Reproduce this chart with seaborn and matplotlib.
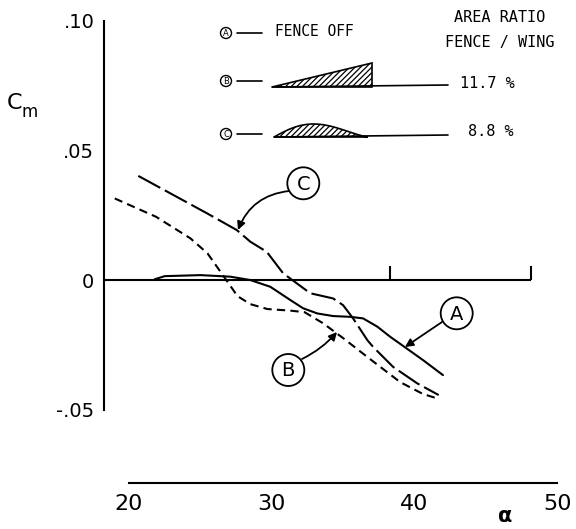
import numpy as np
import pandas as pd
import matplotlib
matplotlib.use("Agg")
import matplotlib.pyplot as plt
from matplotlib.patches import Circle, Polygon
import seaborn as sns

# Pitching moment vs angle of attack
alpha_a = [21.8, 22.5, 25.0, 27.1, 28.5, 29.9, 31.3, 32.2, 33.2, 34.3, 35.5, 36.4, 37.4, 38.3, 39.3, 40.6, 42.0]
cm_a = [0.0003, 0.0015, 0.0019, 0.0013, 0.0, -0.0026, -0.0077, -0.0109, -0.0129, -0.0139,
        -0.0142, -0.0148, -0.0180, -0.0219, -0.0258, -0.0309, -0.0367]

alpha_b = [19.0, 21.9, 24.3, 25.5, 26.6, 27.6, 28.5, 29.7, 31.3, 32.3, 33.6, 35.0, 36.7, 39.0, 40.6, 41.6]
cm_b = [0.0315, 0.0244, 0.0161, 0.0103, 0.0017, -0.0062, -0.0093, -0.0112, -0.0118, -0.0124,
        -0.0167, -0.0224, -0.0297, -0.0394, -0.0440, -0.0457]

alpha_c = [20.65, 25.45, 27.55, 28.5, 29.65, 30.8, 32.7, 34.3, 35.0, 35.7, 36.7, 37.1, 38.5, 40.2, 41.7]
cm_c = [0.0402, 0.0258, 0.0193, 0.0148, 0.0109, 0.0026, -0.0051, -0.0071, -0.0097, -0.0148,
        -0.0232, -0.0258, -0.0335, -0.0399, -0.0444]

x_ticks = [20, 30, 40, 50]
y_ticks = [-0.05, 0.0, 0.05, 0.10]
y_labels = ["-.05", "0", ".05", ".10"]
zero_ticks = [38.3, 48.2]
area_ratio = {"B": "11.7 %", "C": "8.8 %"}

df = pd.concat([
    pd.DataFrame({"alpha": alpha_a, "cm": cm_a, "fence": "A"}),
    pd.DataFrame({"alpha": alpha_b, "cm": cm_b, "fence": "B"}),
    pd.DataFrame({"alpha": alpha_c, "cm": cm_c, "fence": "C"}),
])

sns.set_theme(style="white")
plt.rcParams["font.family"] = ["DejaVu Sans"]
plt.rcParams["text.color"] = "black"
plt.rcParams["hatch.linewidth"] = 0.9
mono = "DejaVu Sans Mono"

fig = plt.figure(figsize=(5.76, 5.29), dpi=100)
ax = fig.add_axes([0, 0, 1, 1])
ax.patch.set_alpha(0)

sns.lineplot(data=df, x="alpha", y="cm", style="fence", sort=False, estimator=None,
             dashes={"A": "", "B": (4, 2.5), "C": (12, 2.5)},
             color="black", linewidth=1.5, legend=False, ax=ax)

ax.set_xlim(10.96, 51.32)
ax.set_ylim(-0.0961, 0.1081)
ax.set_xlabel("")
ax.set_ylabel("")

# detached axes like the original drawing
for s in ["top", "right"]:
    ax.spines[s].set_visible(False)
ax.spines["left"].set_position(("data", 18.25))
ax.spines["left"].set_bounds(-0.05, 0.10)
ax.spines["bottom"].set_position(("data", -0.0784))
ax.spines["bottom"].set_bounds(20, 50)
for s in ["left", "bottom"]:
    ax.spines[s].set_color("black")
    ax.spines[s].set_linewidth(1.5)

ax.set_xticks(x_ticks)
ax.set_xticklabels([str(t) for t in x_ticks], fontsize=16)
ax.set_yticks(y_ticks)
ax.set_yticklabels(y_labels, fontsize=14)
ax.tick_params(direction="in", length=10, width=1.5, color="black", labelcolor="black")
ax.tick_params(axis="x", pad=8)
ax.tick_params(axis="y", pad=7)

# zero reference line with its own ticks
ax.hlines(0, 18.25, zero_ticks[-1], color="black", linewidth=1.5)
ax.vlines(zero_ticks, 0, 0.0054, color="black", linewidth=1.5)

# decorations in pixel space
deco = fig.add_axes([0, 0, 1, 1])
deco.set_xlim(0, 576)
deco.set_ylim(529, 0)
deco.axis("off")

deco.text(15, 103, "C", fontsize=16, ha="center", va="center")
deco.text(30, 112, "m", fontsize=12, ha="center", va="center")
deco.text(505, 516, "\u03b1", fontsize=15, fontweight="bold", ha="center", va="center")

# circled labels with arrows
labels = {"A": (456.7, 313.3), "B": (288.3, 370.0), "C": (303.3, 183.3)}
for key, (cx, cy) in labels.items():
    deco.add_patch(Circle((cx, cy), 16, fill=False, lw=1.3, color="black"))
    deco.text(cx, cy + 1, key, fontsize=14, ha="center", va="center")

arrows = [((289, 191), (238, 230), 0.3), ((442, 322), (405, 347), 0.0), ((302, 359), (337, 332), 0.1)]
for start, end, rad in arrows:
    deco.annotate("", xy=end, xytext=start,
                  arrowprops=dict(arrowstyle="-|>", color="black", lw=1.3, mutation_scale=12,
                                  shrinkA=0, shrinkB=0, connectionstyle=f"arc3,rad={rad}"))

# legend block
for key, cy in [("A", 33), ("B", 81), ("C", 134)]:
    deco.add_patch(Circle((226, cy), 5.5, fill=False, lw=1.0, color="black"))
    deco.text(226, cy + 0.5, key, fontsize=6, ha="center", va="center")
    deco.plot([237, 262], [cy, cy], color="black", lw=1.2)

deco.text(275, 31, "FENCE OFF", family=mono, fontsize=10.5, ha="left", va="center")
deco.text(500, 18, "AREA RATIO", family=mono, fontsize=11, ha="center", va="center")
deco.text(500, 42, "FENCE / WING", family=mono, fontsize=11, ha="center", va="center")
deco.text(460, 83, area_ratio["B"], family=mono, fontsize=11, ha="left", va="center")
deco.text(468, 132, area_ratio["C"], family=mono, fontsize=11, ha="left", va="center")

# fence B: triangular profile
deco.add_patch(Polygon([(272, 87), (372, 63), (372, 87)], closed=True, facecolor="white",
                       edgecolor="black", lw=1.2, hatch="//////"))
deco.plot([272, 448], [87, 85], color="black", lw=1.2)

# fence C: rounded profile
t = np.linspace(0, 1, 40)
bx = 274 + t * 94
by = 137 - 13 * np.sin(np.pi * t ** 0.8) ** 1.3
deco.add_patch(Polygon(list(zip(bx, by)), closed=True, facecolor="white",
                       edgecolor="black", lw=1.2, hatch="//////"))
deco.plot([274, 448], [137, 135], color="black", lw=1.2)

fig.savefig("out.png", dpi=100)
